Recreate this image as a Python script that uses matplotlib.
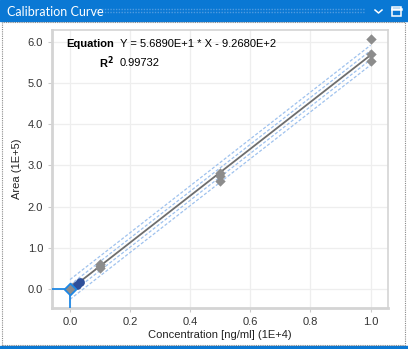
import numpy as np
import matplotlib.pyplot as plt
from matplotlib.patches import Rectangle
from matplotlib.lines import Line2D

plt.rcParams['font.family'] = ['Liberation Sans', 'DejaVu Sans']

# calibration standards (x in 1E+4 ng/ml, y in 1E+5 area)
std_x = [0.01, 0.1, 0.1, 0.1, 0.5, 0.5, 0.5, 1.0, 1.0, 1.0]
std_y = [0.06, 0.52, 0.57, 0.61, 2.63, 2.74, 2.81, 5.54, 5.70, 6.07]
qc_x = [0.024, 0.033]
qc_y = [0.10, 0.17]
sel_x = [0.0]
sel_y = [0.0]

slope = 5.6890E+1
intercept = -9.2680E+2
r2 = 0.99732
inner_band = 0.11
outer_band = 0.24

fig = plt.figure(figsize=(4.08, 3.49), dpi=100)
W, H = 408, 349

def fx(px): return px / W
def fy(py): return 1 - py / H

# window chrome
fig.patches.append(Rectangle((0, fy(21)), 1, 21 / H, transform=fig.transFigure,
                             color='#0a78d4', zorder=0))
fig.patches.append(Rectangle((0, 0), 1, 3 / H, transform=fig.transFigure,
                             color='#0a78d4', zorder=0))
fig.patches.append(Rectangle((fx(2), fy(345)), fx(403), (345 - 22) / H, transform=fig.transFigure,
                             fill=False, ec='#8a8a8a', lw=0.8, ls=(0, (1, 1)), zorder=1))
fig.text(fx(7), fy(11.5), 'Calibration Curve', color='white', fontsize=9,
         family='Lato', va='center', ha='left')
for yl in (9, 11.5):
    fig.lines.append(Line2D([fx(96), fx(365)], [fy(yl), fy(yl)], transform=fig.transFigure,
                            color='#4f9be0', lw=1.0, ls=(0, (1, 1))))
fig.lines.append(Line2D([fx(375), fx(378.5), fx(382)], [fy(10), fy(13), fy(10)],
                        transform=fig.transFigure, color='white', lw=1.1))
fig.patches.append(Rectangle((fx(392), fy(16)), 9 / W, 9 / H, transform=fig.transFigure,
                             fill=False, ec='white', lw=1.1))
fig.lines.append(Line2D([fx(392), fx(401)], [fy(8.5), fy(8.5)], transform=fig.transFigure,
                        color='white', lw=1.8))

ax = fig.add_axes([fx(52), fy(308), (388 - 52) / W, (308 - 30) / H])
ax.set_xlim(-0.06, 1.058)
ax.set_ylim(-0.46, 6.29)

xx = np.array([0.0, 1.0])
yy = (slope * xx * 1e4 + intercept) / 1e5
for off in [-outer_band, -inner_band, inner_band, outer_band]:
    ax.plot(xx, yy + off, color='#9fc2ee', lw=0.9, ls=(0, (2.5, 1.5)), zorder=2)
ax.plot(xx, yy, color='#6e6e6e', lw=1.3, zorder=3)

# selection crosshair
ax.plot([-0.06, 0.0], [0.0, 0.0], color='#1e88e5', lw=1.3, zorder=4)
ax.plot([0.0, 0.0], [-0.46, 0.0], color='#1e88e5', lw=1.3, zorder=4)

ax.scatter(std_x, std_y, marker='D', s=28, color='#8c8c8c', zorder=5, lw=0)
ax.scatter(qc_x, qc_y, marker='o', s=40, color='#2e4f9a', zorder=5, lw=0)
ax.scatter(sel_x, sel_y, marker='D', s=36, facecolor='#8c8c8c', edgecolor='#1e88e5',
           lw=1.3, zorder=6)

ax.set_xticks([0.0, 0.2, 0.4, 0.6, 0.8, 1.0])
ax.set_yticks([0.0, 1.0, 2.0, 3.0, 4.0, 5.0, 6.0])
ax.xaxis.set_major_formatter(plt.FormatStrFormatter('%.1f'))
ax.yaxis.set_major_formatter(plt.FormatStrFormatter('%.1f'))
ax.tick_params(labelsize=8, colors='#333333', length=3, color='#cccccc')
ax.grid(True, color='#eeeeee', lw=0.9)
ax.set_axisbelow(True)
for s in ax.spines.values():
    s.set_color('#d4d4d4')
    s.set_linewidth(1.2)
ax.spines['left'].set_linewidth(2)
ax.spines['bottom'].set_linewidth(2)

ax.set_xlabel('Concentration [ng/ml] (1E+4)', fontsize=8, color='#222222', labelpad=2)
ax.set_ylabel('Area (1E+5)', fontsize=8, color='#222222', labelpad=4)

ax.text(fx(114), fy(44), 'Equation', transform=fig.transFigure, fontsize=8,
        fontweight='bold', ha='right', va='center')
ax.text(fx(120), fy(44), f'Y = {slope:.4E} * X - {abs(intercept):.4E}'.replace('E+01', 'E+1').replace('E+02', 'E+2'),
        transform=fig.transFigure, fontsize=8, ha='left', va='center')
ax.text(fx(114), fy(63), r'R$^\mathbf{2}$', transform=fig.transFigure, fontsize=8,
        fontweight='bold', ha='right', va='center')
ax.text(fx(120), fy(63), f'{r2:.5f}', transform=fig.transFigure, fontsize=8,
        ha='left', va='center')

fig.savefig('out.png', dpi=100)
